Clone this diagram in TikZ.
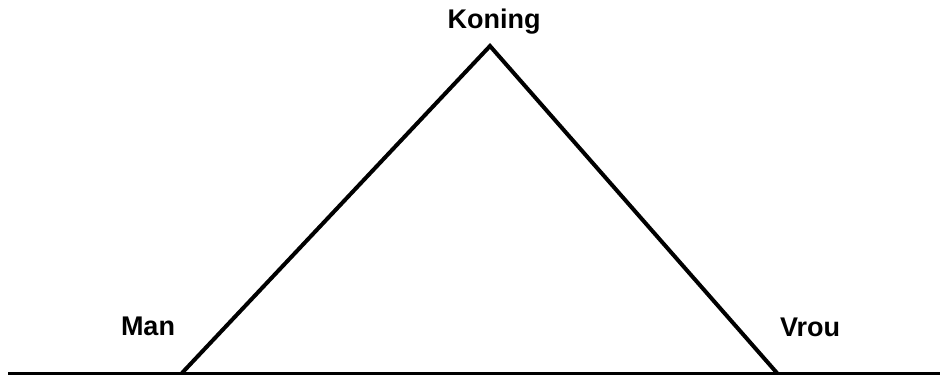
\documentclass[tikz,border=0pt]{standalone}
\usepackage{fontspec}
\setmainfont{Liberation Sans}
\begin{document}
\begin{tikzpicture}[x=1pt,y=-1pt,
  lbl/.style={font=\fontsize{27}{32}\selectfont\bfseries, inner sep=0pt, anchor=base},
  edge/.style={line width=4pt, line join=miter},
  ground/.style={line width=3pt}]
\useasboundingbox (0,0) rectangle (940,378);
\coordinate (apex) at (490,46);
\coordinate (left) at (182,373);
\coordinate (right) at (777,373);
\coordinate (g0) at (8,373);
\coordinate (g1) at (940,373);
\draw[ground] (g0) -- (g1);
\draw[edge] (left) -- (apex) -- (right);
\node[lbl] (koning) at (494,28) {Koning};
\node[lbl] (man) at (148,335) {Man};
\node[lbl] (vrou) at (810,336) {Vrou};
\end{tikzpicture}
\end{document}
